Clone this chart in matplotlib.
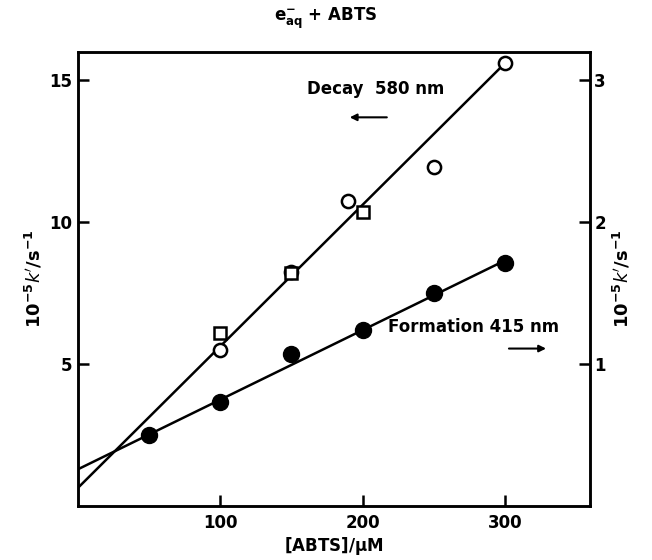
import matplotlib
matplotlib.use("Agg")
import matplotlib.pyplot as plt
import numpy as np

plt.rcParams['font.family'] = ['DejaVu Sans']
plt.rcParams['mathtext.default'] = 'bf'
plt.rcParams['mathtext.fontset'] = 'dejavusans'

# Decay 580 nm (left axis, 10^-5 k'/s^-1)
decay_circ_x = [100, 150, 190, 250, 300]
decay_circ_y = [5.5, 8.25, 10.75, 11.95, 15.6]
decay_sq_x = [100, 150, 200]
decay_sq_y = [6.1, 8.2, 10.35]
decay_fit_x = [0, 300]
decay_fit_y = [0.65, 15.6]

# Formation 415 nm (right axis, 10^-5 k'/s^-1)
form_x = [50, 100, 150, 200, 250, 300]
form_y = [0.50, 0.73, 1.07, 1.24, 1.50, 1.71]
form_fit_x = [0, 300]
form_fit_y = [0.26, 1.73]

x_ticks = [100, 200, 300]
left_ticks = [5, 10, 15]
right_ticks = [1, 2, 3]

fig = plt.figure(figsize=(6.52, 5.6), dpi=100)
ax = fig.add_axes([0.12, 0.0964, 0.785, 0.8106])
ax2 = ax.twinx()

lw = 1.8
ax.plot(decay_fit_x, decay_fit_y, color='black', lw=lw, zorder=2)
ax.plot(decay_circ_x, decay_circ_y, 'o', ms=9.5, mfc='white', mec='black', mew=1.8, zorder=3, linestyle='none')
ax.plot(decay_sq_x, decay_sq_y, 's', ms=9, mfc='white', mec='black', mew=1.8, zorder=3, linestyle='none')

ax2.plot(form_fit_x, form_fit_y, color='black', lw=lw, zorder=2)
ax2.plot(form_x, form_y, 'o', ms=11.5, color='black', zorder=3, linestyle='none')

ax.set_xlim(0, 360)
ax.set_ylim(0, 16)
ax2.set_ylim(0, 3.2)

ax.set_xticks(x_ticks)
ax.set_yticks(left_ticks)
ax2.set_yticks(right_ticks)

for a in (ax, ax2):
    for s in a.spines.values():
        s.set_linewidth(1.8)
ax.tick_params(axis='both', direction='in', length=8, width=1.8, labelsize=12, pad=4)
ax.tick_params(axis='x', top=False, pad=6)
ax.tick_params(axis='y', right=False)
ax2.tick_params(axis='y', direction='in', length=8, width=1.8, labelsize=12, pad=3)
for lab in ax.get_xticklabels() + ax.get_yticklabels() + ax2.get_yticklabels():
    lab.set_fontweight('bold')

ax.set_xlabel('[ABTS]/$\\mu$M', fontsize=12, fontweight='bold', labelpad=2)
ylab = "$10^{-5}\\mathit{k}'/s^{-1}$"
ax.set_ylabel(ylab, fontsize=13, labelpad=4)
ax2.set_ylabel(ylab, fontsize=13, labelpad=4)

fig.text(0.5, 0.968, '$e^{-}_{aq}$ + ABTS', ha='center', va='center', fontsize=12, fontweight='bold')

ax.text(209, 14.7, 'Decay  580 nm', ha='center', va='center', fontsize=12, fontweight='bold')
ax.annotate('', xy=(189, 13.7), xytext=(219, 13.7),
            arrowprops=dict(arrowstyle='-|>', color='black', lw=1.5, mutation_scale=10))
ax.text(278, 6.3, 'Formation 415 nm', ha='center', va='center', fontsize=12, fontweight='bold')
ax.annotate('', xy=(331, 5.55), xytext=(301, 5.55),
            arrowprops=dict(arrowstyle='-|>', color='black', lw=1.5, mutation_scale=10))

fig.savefig('out.png', dpi=100)
